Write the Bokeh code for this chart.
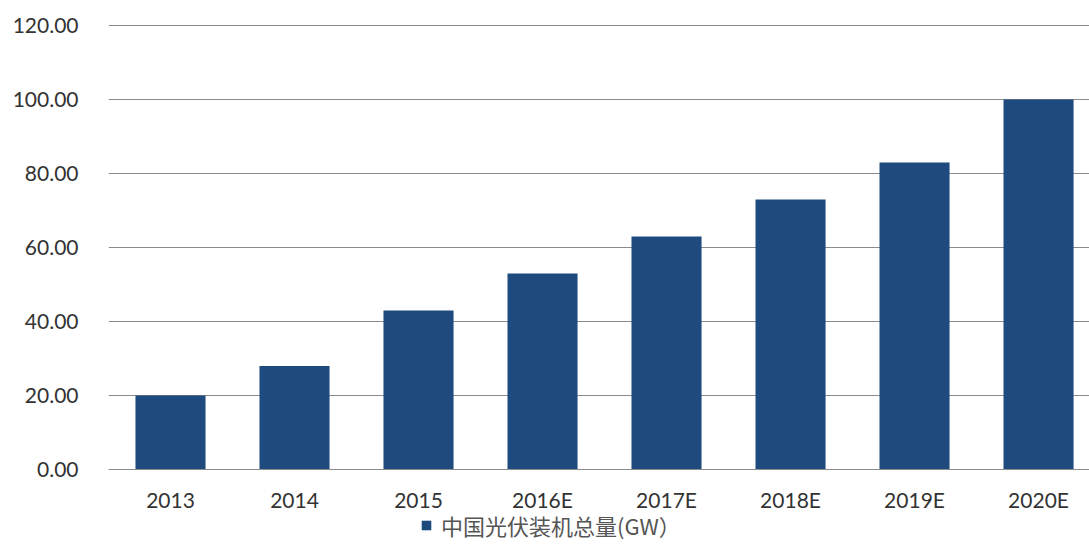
from bokeh.plotting import figure
from bokeh.models import ColumnDataSource, FixedTicker, NumeralTickFormatter, Range1d, Legend, LegendItem
from bokeh.embed import file_html
from bokeh.resources import INLINE

categories = ["2013", "2014", "2015", "2016E", "2017E", "2018E", "2019E", "2020E"]
values = [20, 28, 43, 53, 63, 73, 83, 100]
y_ticks = [0, 20, 40, 60, 80, 100, 120]
series_name = "中国光伏装机总量(GW）"

idx = list(range(len(categories)))
src = ColumnDataSource(dict(x=idx, top=values, name=categories))

p = figure(width=1089, height=545, output_backend="svg", toolbar_location=None,
           x_range=Range1d(-0.5, 7.411), y_range=Range1d(-20.54, 121.35),
           min_border_left=108, min_border_right=0, min_border_top=20, min_border_bottom=0)
p.outline_line_color = None
p.background_fill_color = "white"

r = p.vbar(x="x", top="top", bottom=0, width=0.565, source=src,
           fill_color="#1f4a7e", line_color=None)

p.xaxis.fixed_location = 0
p.xaxis.ticker = FixedTicker(ticks=idx)
p.xaxis.major_label_overrides = {i: c for i, c in zip(idx, categories)}
p.yaxis.ticker = FixedTicker(ticks=y_ticks)
p.yaxis.formatter = NumeralTickFormatter(format="0.00")

for ax in (p.xaxis, p.yaxis):
    ax.major_tick_line_color = None
    ax.minor_tick_line_color = None
    ax.major_label_text_font = "Lato"
    ax.major_label_text_font_size = "21px"
    ax.major_label_text_color = "#333333"
p.yaxis.axis_line_color = None
p.yaxis.major_label_standoff = 24
p.xaxis.axis_line_color = "#8c8c8c"
p.xaxis.axis_line_width = 1.2
p.xaxis.major_label_standoff = 11

p.xgrid.grid_line_color = None
p.ygrid.grid_line_color = "#8c8c8c"
p.ygrid.grid_line_width = 1.2

legend = Legend(items=[LegendItem(label=series_name, renderers=[r])],
                location=(312, 4), orientation="horizontal",
                border_line_color=None, background_fill_alpha=0,
                label_text_font="Noto Sans CJK SC", label_text_font_size="22px",
                label_text_color="#555555", glyph_width=12, glyph_height=12,
                label_standoff=9, padding=0, margin=0)
p.add_layout(legend, "center")

open("out.html", "w").write(file_html(p, INLINE))
